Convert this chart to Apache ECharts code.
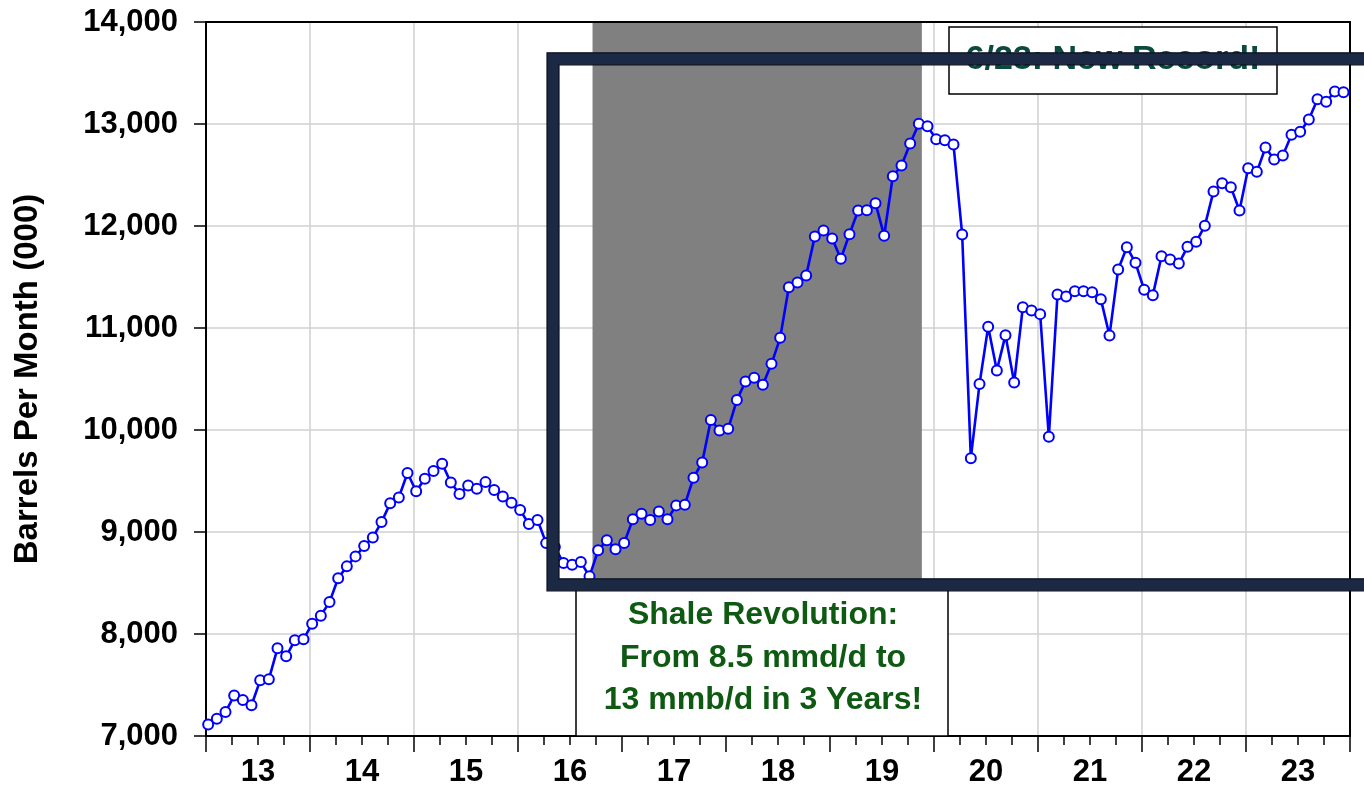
<!DOCTYPE html>
<html>
<head>
<meta charset="utf-8">
<script src="https://cdn.jsdelivr.net/npm/echarts@6/dist/echarts.min.js"></script>
<style>
html, body { margin: 0; padding: 0; background: #fff; }
#chart { width: 1364px; height: 789px; }
</style>
</head>
<body>
<div id="chart"></div>
<script>
// monthly crude output, Jan 2013 .. Dec 2023 (thousand barrels)
var yearLabels = ['13','14','15','16','17','18','19','20','21','22','23'];

var output2013 = [7112, 7170, 7235, 7396, 7353, 7301, 7546, 7556, 7860, 7781, 7938, 7948];
var output2014 = [8101, 8180, 8313, 8546, 8663, 8761, 8862, 8947, 9097, 9281, 9339, 9578];
var output2015 = [9400, 9522, 9597, 9669, 9486, 9372, 9457, 9424, 9489, 9411, 9349, 9287];
var output2016 = [9215, 9078, 9117, 8891, 8852, 8696, 8680, 8705, 8565, 8820, 8918, 8830];
var output2017 = [8892, 9124, 9180, 9117, 9202, 9124, 9261, 9268, 9532, 9682, 10097, 9996];
var output2018 = [10012, 10293, 10476, 10512, 10443, 10649, 10904, 11400, 11446, 11515, 11898, 11957];
var output2019 = [11878, 11679, 11920, 12152, 12155, 12224, 11904, 12488, 12593, 12809, 13002, 12979];
var output2020 = [12851, 12841, 12799, 11917, 9724, 10450, 11012, 10584, 10930, 10466, 11204, 11172];
var output2021 = [11136, 9934, 11329, 11309, 11361, 11361, 11351, 11283, 10927, 11574, 11792, 11639];
var output2022 = [11375, 11322, 11704, 11671, 11632, 11796, 11845, 12002, 12339, 12420, 12381, 12152];
var output2023 = [12567, 12531, 12769, 12652, 12691, 12894, 12923, 13044, 13243, 13218, 13319, 13312];

// shaded "shale revolution" span, in months since Jan 2013
var shadeStart = 44.6, shadeEnd = 82.6;

var chart = echarts.init(document.getElementById('chart'));

var allMonths = [].concat(output2013, output2014, output2015, output2016, output2017,
	output2018, output2019, output2020, output2021, output2022, output2023);
var seriesData = allMonths.map(function (v, i) { return [i + 0.25, v]; });

var labelPos = yearLabels.map(function (y, i) { return i * 12 + 6; });

function addCommas(v) {
	return String(v).replace(/\B(?=(\d{3})+(?!\d))/g, ',');
}

var font = 'Liberation Sans, Arial, sans-serif';

// plain black lines for the top and right sides of the frame
var frameLine = {
	show: true, z: 3,
	axisLine: { show: true, onZero: false, lineStyle: { color: '#000', width: 2 } },
	axisTick: { show: false }, axisLabel: { show: false }, splitLine: { show: false }
};

chart.setOption({
	animation: false,
	grid: {
		left: 206, right: 14, top: 22, bottom: 53,
		show: true, borderColor: '#000', borderWidth: 2,
		backgroundColor: 'transparent'
	},
	xAxis: [{
		type: 'value',
		min: 0, max: 132, interval: 12,
		axisLine: { onZero: false, lineStyle: { color: '#000', width: 2 } },
		axisTick: { show: true, inside: false, length: 16, lineStyle: { color: '#000', width: 1.5 } },
		minorTick: { show: true, splitNumber: 4, length: 9, lineStyle: { color: '#000', width: 1.5 } },
		splitLine: { show: true, lineStyle: { color: '#d0d0d0', width: 1.5 } },
		axisLabel: {
			customValues: labelPos,
			margin: 21,
			color: '#000',
			fontFamily: font, fontWeight: 'bold', fontSize: 31,
			formatter: function (v) { return yearLabels[Math.round((v - 6) / 12)]; }
		}
	}, Object.assign({ type: 'value', position: 'top', min: 0, max: 132, interval: 12 }, frameLine)],
	yAxis: [{
		type: 'value',
		min: 7000, max: 14000, interval: 1000,
		name: 'Barrels Per Month (000)',
		nameLocation: 'middle',
		nameGap: 162,
		nameTextStyle: { fontFamily: font, fontWeight: 'bold', fontSize: 33, color: '#000' },
		axisLine: { show: true, lineStyle: { color: '#000', width: 2 } },
		axisTick: { show: true, inside: false, length: 12, lineStyle: { color: '#000', width: 1.5 } },
		splitLine: { show: true, lineStyle: { color: '#d0d0d0', width: 1.5 } },
		axisLabel: {
			margin: 28,
			color: '#000',
			fontFamily: font, fontWeight: 'bold', fontSize: 31,
			formatter: addCommas
		}
	}, Object.assign({ type: 'value', position: 'right', min: 7000, max: 14000, interval: 1000 }, frameLine)],
	series: [
		{
			// gray band sits under the grid lines
			type: 'line',
			z: -1,
			data: [],
			silent: true,
			markArea: {
				silent: true,
				itemStyle: { color: '#808080' },
				data: [[{ xAxis: shadeStart, yAxis: 8480 }, { xAxis: shadeEnd, yAxis: 14000 }]]
			}
		},
		{
			name: 'Output',
			type: 'line',
			data: seriesData,
			symbol: 'circle',
			symbolSize: 10,
			showAllSymbol: true,
			lineStyle: { color: '#0000ff', width: 2.6 },
			itemStyle: { color: '#ffffff', borderColor: '#0000ff', borderWidth: 2 },
			z: 5
		}
	],
	graphic: [
		{
			type: 'rect', z: 100,
			shape: { x: 576, y: 582, width: 372, height: 154 },
			style: { fill: '#fff', stroke: '#000', lineWidth: 1.5 }
		},
		{
			type: 'text', z: 101, x: 763, y: 615,
			style: {
				text: 'Shale Revolution:', fill: '#0e5a12', align: 'center', verticalAlign: 'middle',
				font: 'bold 32px Liberation Sans, Arial, sans-serif'
			}
		},
		{
			type: 'text', z: 101, x: 763, y: 658,
			style: {
				text: 'From 8.5 mmd/d to', fill: '#0e5a12', align: 'center', verticalAlign: 'middle',
				font: 'bold 32px Liberation Sans, Arial, sans-serif'
			}
		},
		{
			type: 'text', z: 101, x: 763, y: 700,
			style: {
				text: '13 mmb/d in 3 Years!', fill: '#0e5a12', align: 'center', verticalAlign: 'middle',
				font: 'bold 32px Liberation Sans, Arial, sans-serif'
			}
		},
		{
			type: 'rect', z: 100,
			shape: { x: 949, y: 27, width: 328, height: 67 },
			style: { fill: '#fff', stroke: '#000', lineWidth: 1.5 }
		},
		{
			type: 'text', z: 101, x: 1113, y: 60,
			style: {
				text: '6/23: New Record!', fill: '#0b4a3e', align: 'center', verticalAlign: 'middle',
				font: 'bold 34px Liberation Sans, Arial, sans-serif'
			}
		},
		// heavy navy frame, runs off the right edge
		{
			type: 'rect', z: 110,
			shape: { x: 553, y: 58.8, width: 840, height: 526 },
			style: { fill: null, stroke: '#1b2944', lineWidth: 12 }
		},
		{
			type: 'rect', z: 111,
			shape: { x: 547, y: 52.8, width: 852, height: 538 },
			style: { fill: null, stroke: '#0b1220', lineWidth: 1.2 }
		},
		{
			type: 'rect', z: 111,
			shape: { x: 559, y: 64.8, width: 828, height: 514 },
			style: { fill: null, stroke: '#0b1220', lineWidth: 1.2 }
		}
	]
});
</script>
</body>
</html>
